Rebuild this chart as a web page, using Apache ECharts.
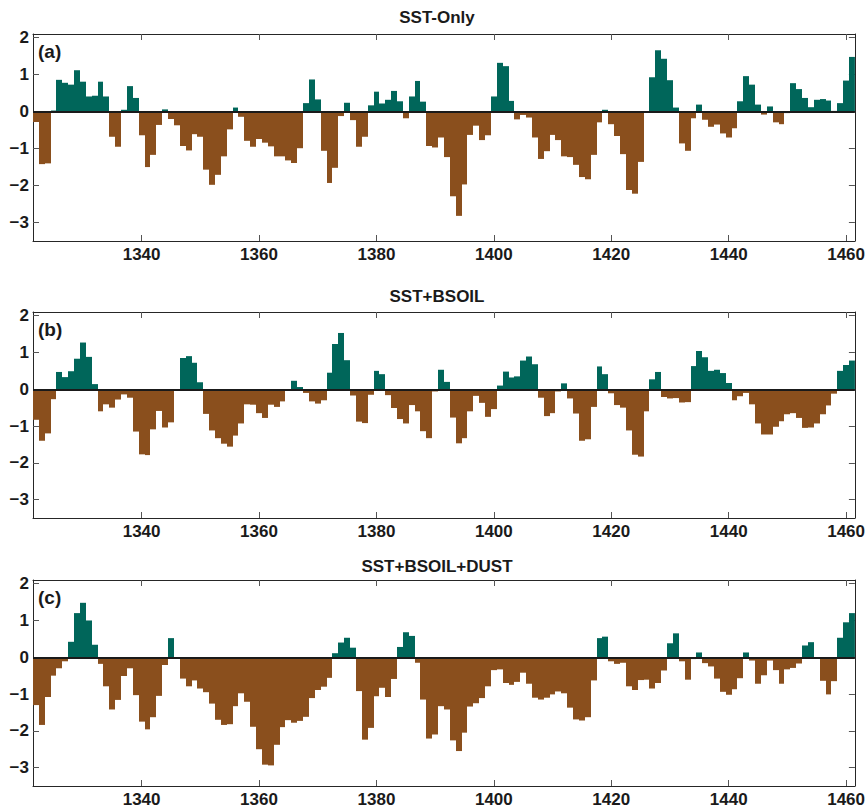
<!DOCTYPE html>
<html>
<head>
<meta charset="utf-8">
<script src="https://cdn.jsdelivr.net/npm/echarts@6/dist/echarts.min.js"></script>
<style>
html,body{margin:0;padding:0;background:#fff;}
#chart{width:868px;height:808px;}
</style>
</head>
<body>
<div id="chart"></div>
<script>
// Years 1322..1461 (one bar per year)
const firstYear = 1322;
const lastYear = 1461;

const panelTitles = ["SST-Only", "SST+BSOIL", "SST+BSOIL+DUST"];
const panelLabels = ["(a)", "(b)", "(c)"];
const xTickValues = [1340, 1360, 1380, 1400, 1420, 1440, 1460];
const yTickValues = [-3, -2, -1, 0, 1, 2];

// (a) SST-Only
const sstOnly = [
  -0.28,-1.42,-1.40,0.03,0.86,0.78,0.73,1.12,0.81,0.41,
  0.43,0.81,0.41,-0.68,-0.95,0.05,0.69,0.37,-0.64,-1.50,
  -1.17,-0.36,0.06,-0.20,-0.37,-0.93,-1.05,-0.61,-0.68,-1.57,
  -1.98,-1.71,-1.21,-0.48,0.11,-0.14,-0.79,-0.95,-0.74,-0.84,
  -0.94,-1.21,-1.21,-1.32,-1.39,-0.99,0.23,0.87,0.33,-1.06,
  -1.93,-1.52,-0.12,0.24,-0.23,-0.95,-0.68,0.17,0.54,0.22,
  0.32,0.56,0.28,-0.18,0.41,0.83,0.27,-0.93,-0.97,-0.70,
  -1.23,-2.29,-2.82,-1.97,-0.63,-0.38,-0.77,-0.64,0.41,1.32,
  1.23,0.29,-0.21,-0.09,-0.16,-0.70,-1.28,-1.07,-0.63,-0.77,
  -1.21,-1.23,-1.44,-1.77,-1.83,-1.17,-0.29,0.05,-0.34,-0.66,
  -1.15,-2.12,-2.22,-1.36,-0.02,0.93,1.66,1.43,0.85,0.11,
  -0.86,-1.06,-0.18,0.19,-0.22,-0.41,-0.35,-0.59,-0.70,-0.45,
  0.28,0.96,0.73,0.19,-0.08,0.14,-0.29,-0.34,-0.04,0.77,
  0.61,0.37,0.12,0.32,0.34,0.30,0.02,0.23,0.84,1.48
];

// (b) SST+BSOIL
const sstBsoil = [
  -0.83,-1.40,-1.20,-0.27,0.47,0.33,0.49,0.83,1.27,0.88,
  0.14,-0.60,-0.41,-0.50,-0.28,-0.14,-0.23,-1.15,-1.77,-1.79,
  -1.09,-0.59,-1.04,-0.90,-0.02,0.85,0.90,0.72,0.19,-0.67,
  -1.12,-1.33,-1.48,-1.56,-1.26,-0.93,-0.41,-0.42,-0.65,-0.78,
  -0.42,-0.48,-0.33,-0.02,0.23,0.06,-0.10,-0.33,-0.39,-0.30,
  0.45,1.23,1.53,0.79,-0.17,-0.88,-0.92,-0.15,0.50,0.41,
  -0.16,-0.51,-0.81,-0.93,-0.43,-0.60,-1.14,-1.33,-0.06,0.53,
  0.20,-0.77,-1.47,-1.33,-0.60,-0.18,-0.37,-0.75,-0.54,0.10,
  0.48,0.32,0.35,0.78,0.89,0.68,-0.23,-0.73,-0.65,-0.06,
  0.16,-0.25,-0.66,-1.40,-1.36,-0.48,0.62,0.41,-0.11,-0.43,
  -0.50,-1.12,-1.78,-1.83,-0.60,0.27,0.47,-0.21,-0.25,-0.24,
  -0.36,-0.35,0.63,1.04,0.87,0.50,0.53,0.44,0.17,-0.30,
  -0.19,-0.10,-0.41,-0.93,-1.23,-1.23,-1.02,-0.87,-0.68,-0.65,
  -0.78,-1.05,-1.04,-0.93,-0.68,-0.44,-0.12,0.50,0.66,0.78
];

// (c) SST+BSOIL+DUST
const sstBsoilDust = [
  -1.30,-1.84,-1.08,-0.50,-0.30,-0.11,0.42,1.20,1.48,1.00,
  0.34,-0.18,-0.79,-1.42,-1.16,-0.51,-0.30,-1.03,-1.75,-1.96,
  -1.63,-1.05,-0.21,0.52,0.00,-0.58,-0.79,-0.63,-0.85,-0.95,
  -1.26,-1.70,-1.84,-1.82,-1.33,-0.98,-1.21,-1.89,-2.50,-2.92,
  -2.94,-2.38,-1.90,-1.71,-1.78,-1.73,-1.62,-1.11,-0.89,-0.80,
  -0.56,0.11,0.40,0.53,0.26,-0.92,-2.24,-1.92,-1.06,-0.83,
  -1.08,-0.59,0.28,0.68,0.58,-0.15,-1.15,-2.21,-2.10,-1.33,
  -1.42,-2.26,-2.55,-2.05,-1.34,-1.25,-1.11,-0.79,-0.35,-0.33,
  -0.70,-0.75,-0.67,-0.42,-0.72,-1.10,-1.15,-1.10,-1.01,-0.93,
  -0.98,-1.37,-1.69,-1.72,-1.63,-0.63,0.52,0.56,-0.11,-0.18,
  -0.15,-0.79,-0.89,-0.62,-0.61,-0.85,-0.70,-0.36,0.38,0.65,
  -0.11,-0.61,-0.05,0.13,-0.16,-0.25,-0.58,-0.94,-1.02,-0.87,
  -0.57,0.13,-0.09,-0.72,-0.49,-0.09,-0.35,-0.72,-0.33,-0.29,
  -0.17,0.32,0.41,0.00,-0.64,-1.01,-0.65,0.53,0.95,1.20
];

const years = [];
for (let y = firstYear; y <= lastYear; y++) years.push(y);
const panelSeries = [sstOnly, sstBsoil, sstBsoilDust];

// ---- styling / layout ----
const TEAL = '#00665A';
const BROWN = '#8A4F1D';
const FONT = '"Liberation Sans", Arial, Helvetica, sans-serif';
const grids = [
  { left: 33, width: 824, top: 34, height: 207 },
  { left: 33, width: 824, top: 312, height: 206 },
  { left: 33, width: 824, top: 580, height: 206 }
];
const titleY = [17, 296, 566];
const X_MIN = 1321.5, X_MAX = 1461.5, Y_MIN = -3.5, Y_MAX = 2.1;

function renderBar(params, api) {
  const x = api.value(0), v = api.value(1);
  const p0 = api.coord([x - 0.5, v]);
  const p1 = api.coord([x + 0.5, 0]);
  const cs = params.coordSys;
  const x0 = Math.round(p0[0]), x1 = Math.round(p1[0]);
  const shape = echarts.graphic.clipRectByRect(
    { x: x0, y: Math.min(p0[1], p1[1]), width: x1 - x0, height: Math.abs(p1[1] - p0[1]) },
    { x: cs.x, y: cs.y, width: cs.width, height: cs.height }
  );
  if (!shape) return null;
  return { type: 'rect', shape: shape, style: { fill: v >= 0 ? TEAL : BROWN } };
}

const minusFmt = v => String(v).replace('-', '\u2212');
const yearFmt = v => String(v);

const option = {
  animation: false,
  backgroundColor: '#ffffff',
  grid: [], xAxis: [], yAxis: [], series: [], graphic: []
};

grids.forEach((g, i) => {
  option.grid.push(Object.assign({ show: false }, g));
  const lineStyle = { color: '#262626', width: 1 };
  const tickStyle = { color: '#555555', width: 1 };
  ['bottom', 'top'].forEach(pos => {
    option.xAxis.push({
      type: 'value', gridIndex: i, min: X_MIN, max: X_MAX, position: pos,
      axisLine: { show: true, onZero: false, lineStyle: lineStyle },
      axisTick: { show: true, inside: true, length: 6, customValues: xTickValues, lineStyle: tickStyle },
      axisLabel: {
        show: pos === 'bottom', customValues: xTickValues, margin: 5, formatter: yearFmt,
        fontSize: 17, fontWeight: 'bold', color: '#1a1a1a', fontFamily: FONT
      },
      splitLine: { show: false }
    });
  });
  ['left', 'right'].forEach(pos => {
    option.yAxis.push({
      type: 'value', gridIndex: i, min: Y_MIN, max: Y_MAX, position: pos,
      axisLine: { show: true, onZero: false, lineStyle: lineStyle },
      axisTick: { show: true, inside: true, length: 6, customValues: yTickValues, lineStyle: tickStyle },
      axisLabel: {
        show: pos === 'left', customValues: yTickValues, margin: 4, formatter: minusFmt,
        fontSize: 17, fontWeight: 'bold', color: '#1a1a1a', fontFamily: FONT
      },
      splitLine: { show: false }
    });
  });
  option.series.push({
    type: 'custom', name: panelTitles[i],
    xAxisIndex: 2 * i, yAxisIndex: 2 * i,
    renderItem: renderBar,
    data: years.map((y, k) => [y, panelSeries[i][k]]),
    encode: { x: 0, y: 1 },
    markLine: {
      silent: true, symbol: 'none', animation: false,
      label: { show: false },
      lineStyle: { color: '#1a1a1a', width: 2, type: 'solid' },
      data: [{ yAxis: 0 }]
    }
  });
  option.graphic.push({
    type: 'text', x: 437, y: titleY[i],
    style: {
      text: panelTitles[i], textAlign: 'center', textVerticalAlign: 'middle',
      font: 'bold 17px ' + FONT, fill: '#1a1a1a'
    }
  });
  option.graphic.push({
    type: 'text', x: 38, y: g.top + 17,
    style: {
      text: panelLabels[i], textAlign: 'left', textVerticalAlign: 'middle',
      font: 'bold 19px ' + FONT, fill: '#1a1a1a'
    }
  });
});

const chart = echarts.init(document.getElementById('chart'), null, { renderer: 'svg', width: 868, height: 808 });
chart.setOption(option);
</script>
</body>
</html>
